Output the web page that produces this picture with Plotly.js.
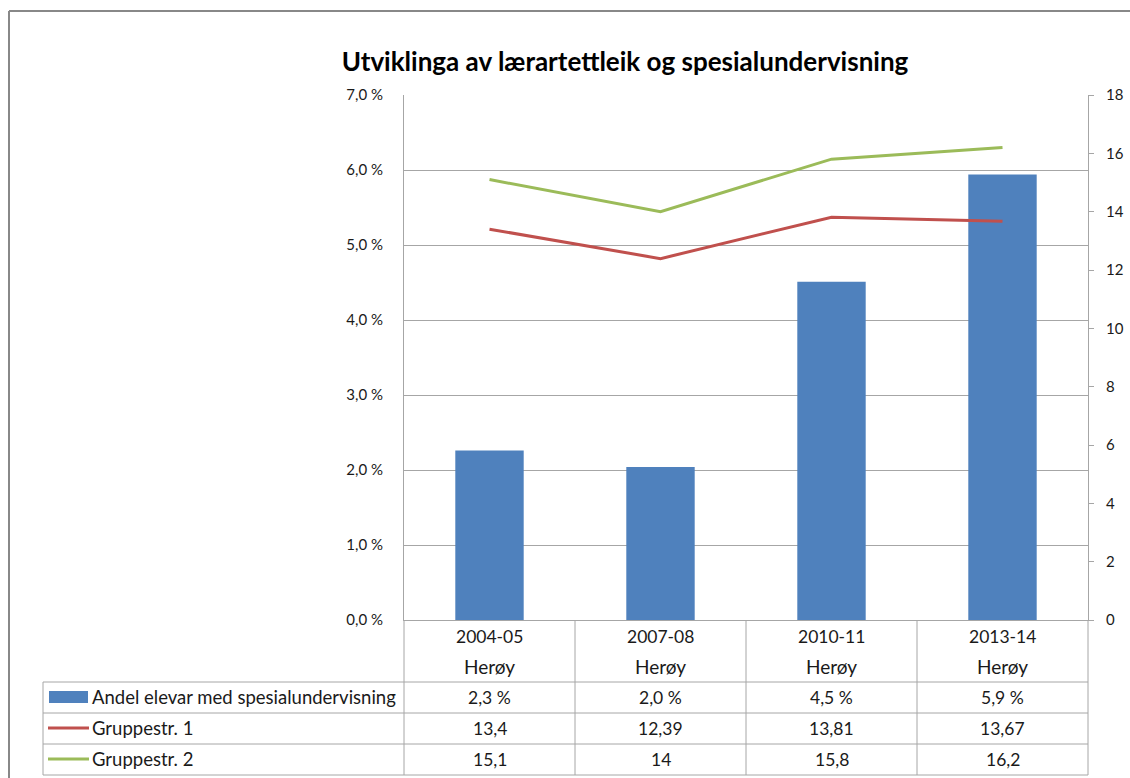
<!DOCTYPE html>
<html>
<head>
<meta charset="utf-8">
<script src="https://cdn.plot.ly/plotly-3.0.1.min.js"></script>
<style>html,body{margin:0;padding:0;background:#fff;}#chart{width:1130px;height:778px;}</style>
</head>
<body>
<div id="chart"></div>
<script>
// ---- data ----
const categories = ['2004-05', '2007-08', '2010-11', '2013-14'];
const subLabels = ['Herøy', 'Herøy', 'Herøy', 'Herøy'];
const seriesNames = ['Andel elevar med spesialundervisning', 'Gruppestr. 1', 'Gruppestr. 2'];
const andel = [2.26, 2.04, 4.51, 5.94];      // percent
const gruppe1 = [13.4, 12.39, 13.81, 13.67];
const gruppe2 = [15.1, 14, 15.8, 16.2];
const gruppe1Text = ['13,4', '12,39', '13,81', '13,67'];
const gruppe2Text = ['15,1', '14', '15,8', '16,2'];

// ---- geometry helpers (pixel -> paper) ----
const W = 1130, H = 778;
const L = 404, R = 1088, T = 95, B = 620;
const px = x => (x - L) / (R - L);
const py = y => (B - y) / (B - T);

const FONT = 'Lato, "Open Sans", sans-serif';
const TXT = '#1a1a1a';
const GRID = '#a6a6a6';
const colors = ['#4F81BD', '#C0504D', '#9BBB59'];

const traces = [
  {type: 'bar', x: categories, y: andel, name: seriesNames[0], marker: {color: colors[0]}, width: 0.4, yaxis: 'y'},
  {type: 'scatter', mode: 'lines', x: categories, y: gruppe1, name: seriesNames[1], line: {color: colors[1], width: 3}, yaxis: 'y2'},
  {type: 'scatter', mode: 'lines', x: categories, y: gruppe2, name: seriesNames[2], line: {color: colors[2], width: 3}, yaxis: 'y2'}
];

const fmtPct = v => v.toFixed(1).replace('.', ',') + ' %';

const annotations = [];
const rowY = [697, 728, 759];
const rowTexts = [andel.map(fmtPct), gruppe1Text, gruppe2Text];
categories.forEach((c, i) => {
  annotations.push({x: c, xref: 'x', y: py(636), yref: 'paper', text: c, showarrow: false, xanchor: 'center', yanchor: 'middle', font: {family: FONT, size: 17.5, color: TXT}});
  annotations.push({x: c, xref: 'x', y: py(666), yref: 'paper', text: subLabels[i], showarrow: false, xanchor: 'center', yanchor: 'middle', font: {family: FONT, size: 19, color: TXT}});
  rowTexts.forEach((arr, r) => {
    annotations.push({x: c, xref: 'x', y: py(rowY[r]), yref: 'paper', text: arr[i], showarrow: false, xanchor: 'center', yanchor: 'middle', font: {family: FONT, size: 17.5, color: TXT}});
  });
});
seriesNames.forEach((n, r) => {
  annotations.push({x: px(90), xref: 'paper', y: py(rowY[r]), yref: 'paper', text: n, showarrow: false, xanchor: 'left', yanchor: 'middle', font: {family: FONT, size: 18.5, color: TXT}});
});

const shapes = [];
const lineStyle = {color: GRID, width: 1};
// outer frame
shapes.push({type: 'line', xref: 'paper', yref: 'paper', x0: px(9), x1: px(1135), y0: py(11), y1: py(11), line: {color: '#888', width: 2}});
shapes.push({type: 'line', xref: 'paper', yref: 'paper', x0: px(9), x1: px(9), y0: py(11), y1: py(785), line: {color: '#888', width: 2}});
// table horizontals
[682, 713, 744, 775].forEach(y => shapes.push({type: 'line', xref: 'paper', yref: 'paper', x0: px(43), x1: px(1088), y0: py(y), y1: py(y), line: lineStyle}));
// table verticals
shapes.push({type: 'line', xref: 'paper', yref: 'paper', x0: px(43), x1: px(43), y0: py(682), y1: py(775), line: lineStyle});
[404, 575, 746, 917, 1088].forEach(x => shapes.push({type: 'line', xref: 'paper', yref: 'paper', x0: px(x), x1: px(x), y0: py(620), y1: py(775), line: lineStyle}));
// legend keys
shapes.push({type: 'rect', xref: 'paper', yref: 'paper', x0: px(49), x1: px(88), y0: py(703), y1: py(691), fillcolor: colors[0], line: {width: 0}});
shapes.push({type: 'line', xref: 'paper', yref: 'paper', x0: px(48), x1: px(89), y0: py(728), y1: py(728), line: {color: colors[1], width: 3}});
shapes.push({type: 'line', xref: 'paper', yref: 'paper', x0: px(48), x1: px(89), y0: py(759), y1: py(759), line: {color: colors[2], width: 3}});

const layout = {
  width: W, height: H,
  margin: {l: L, r: W - R, t: T, b: H - B, pad: 0},
  paper_bgcolor: '#fff', plot_bgcolor: '#fff',
  showlegend: false,
  hovermode: false,
  separators: ', ',
  font: {family: FONT, size: 16, color: TXT},
  title: {text: '<b>Utviklinga av lærartettleik og spesialundervisning</b>', x: 625 / W, xref: 'container', xanchor: 'center', y: 1 - 62 / H, yref: 'container', yanchor: 'middle', font: {family: FONT, size: 26, color: '#000'}},
  bargap: 0.6,
  xaxis: {type: 'category', range: [-0.5, 3.5], showticklabels: false, ticks: '', showgrid: false, zeroline: false, showline: true, linecolor: GRID, linewidth: 1, fixedrange: true},
  yaxis: {range: [0, 7], dtick: 1, tick0: 0, tickformat: '.1f', ticksuffix: ' %', showgrid: true, gridcolor: GRID, gridwidth: 1, zeroline: false, showline: true, linecolor: GRID, linewidth: 1, ticks: '', ticklabelstandoff: 17, tickfont: {family: FONT, size: 15, color: TXT}, fixedrange: true},
  yaxis2: {overlaying: 'y', side: 'right', range: [0, 18], dtick: 2, tick0: 0, showgrid: false, zeroline: false, showline: true, linecolor: GRID, linewidth: 1, ticks: 'outside', ticklen: 5, tickcolor: GRID, ticklabelstandoff: 9, tickfont: {family: FONT, size: 15, color: TXT}, fixedrange: true},
  annotations: annotations,
  shapes: shapes
};

Plotly.newPlot('chart', traces, layout, {displayModeBar: false, staticPlot: true});
</script>
</body>
</html>
